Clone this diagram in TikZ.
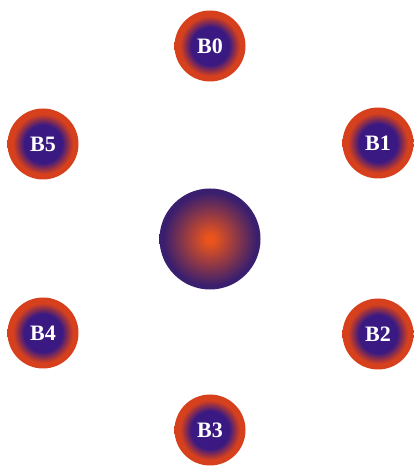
\documentclass[tikz,border=0pt]{standalone}
\usepackage{fontspec}
\setmainfont{Liberation Serif}

\definecolor{bred}{HTML}{D6401C}
\definecolor{bpurple}{HTML}{3A1A82}
\definecolor{corange}{HTML}{EA541C}
\definecolor{cpurple}{HTML}{3A1F6E}

\pgfdeclareradialshading{bring}{\pgfpoint{0bp}{0bp}}{color(0bp)=(bpurple); color(13.5bp)=(bpurple); color(21bp)=(bred); color(25bp)=(bred); color(50bp)=(bred)}
\pgfdeclareradialshading{bcore}{\pgfpoint{0bp}{0bp}}{color(0bp)=(corange); color(2bp)=(corange); color(23bp)=(cpurple); color(25bp)=(cpurple); color(50bp)=(cpurple)}

\tikzset{
  ball/.style={circle, minimum size=71pt, inner sep=0pt, shading=bring,
    text=white, font=\bfseries\fontsize{22}{22}\selectfont},
  core/.style={circle, minimum size=101pt, inner sep=0pt, shading=bcore}
}

\begin{document}
\begin{tikzpicture}[x=1pt,y=1pt]
\useasboundingbox (0,0) rectangle (413,470);

\coordinate (O) at (210,231);
\node[core] (c) at (O) {};

\node[ball] (b0) at (210,424) {B0};
\node[ball] (b1) at (378,327) {B1};
\node[ball] (b2) at (378,136) {B2};
\node[ball] (b3) at (210,40) {B3};
\node[ball] (b4) at (43,137) {B4};
\node[ball] (b5) at (43,326) {B5};
\end{tikzpicture}
\end{document}
